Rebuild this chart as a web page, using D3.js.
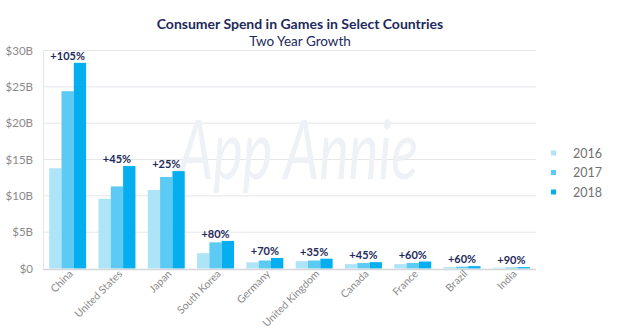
<!DOCTYPE html>
<html>
<head>
<meta charset="utf-8">
<script src="https://cdn.jsdelivr.net/npm/d3@7"></script>
<style>
  html, body { margin: 0; padding: 0; background: #fff; }
  svg { display: block; font-family: Lato, "Open Sans", sans-serif; }
</style>
</head>
<body>
<svg id="chart" width="620" height="330"></svg>
<script>
// Consumer spend in games, billions of US dollars
const countries = ["China", "United States", "Japan", "South Korea", "Germany",
                   "United Kingdom", "Canada", "France", "Brazil", "India"];
const years = ["2016", "2017", "2018"];
const spend2016 = [13.8, 9.6, 10.8, 2.1, 0.85, 1.0, 0.6, 0.6, 0.2, 0.1];
const spend2017 = [24.4, 11.3, 12.6, 3.6, 1.1, 1.1, 0.75, 0.75, 0.25, 0.14];
const spend2018 = [28.3, 14.1, 13.4, 3.8, 1.45, 1.35, 0.87, 0.96, 0.32, 0.19];
const growthLabels = ["+105%", "+45%", "+25%", "+80%", "+70%", "+35%", "+45%", "+60%", "+60%", "+90%"];
const yTicks = [0, 5, 10, 15, 20, 25, 30];
const yearColors = ["#aee4f8", "#5ccaf2", "#05aeee"];

const series = [spend2016, spend2017, spend2018];
const rows = countries.map((c, i) => ({
  country: c,
  values: years.map((yr, k) => ({ year: yr, value: series[k][i] })),
  label: growthLabels[i]
}));

const svg = d3.select("#chart");
const plotLeft = 43, plotRight = 536, plotTop = 50.5, plotBottom = 268.5;

const x = d3.scaleBand().domain(countries).range([plotLeft, plotRight])
  .paddingInner(0.25).paddingOuter(0.125);
const xInner = d3.scaleBand().domain(years).range([0, x.bandwidth()]);
const y = d3.scaleLinear().domain([0, 30]).range([plotBottom, plotTop]);
const color = d3.scaleOrdinal().domain(years).range(yearColors);

// Title
svg.append("text").attr("x", 300).attr("y", 29).attr("text-anchor", "middle")
  .attr("font-size", 14).attr("font-weight", 700).attr("fill", "#1d2a5b")
  .text("Consumer Spend in Games in Select Countries");
svg.append("text").attr("x", 300).attr("y", 46).attr("text-anchor", "middle")
  .attr("font-size", 13.5).attr("fill", "#1d2a5b")
  .text("Two Year Growth");

// Gridlines
svg.append("g").selectAll("line").data(yTicks.filter(d => d > 0)).join("line")
  .attr("x1", plotLeft).attr("x2", plotRight)
  .attr("y1", d => y(d)).attr("y2", d => y(d))
  .attr("stroke", "#e4e6ea").attr("stroke-width", 1);
svg.append("line").attr("x1", plotLeft + 0.5).attr("x2", plotLeft + 0.5)
  .attr("y1", plotTop).attr("y2", plotBottom).attr("stroke", "#e4e6ea");

// Faint watermark
svg.append("text").attr("x", 178).attr("y", 179)
  .attr("font-size", 82).attr("font-style", "italic").attr("font-weight", 400)
  .attr("textLength", 240).attr("lengthAdjust", "spacingAndGlyphs")
  .attr("fill", "#eef1f5").text("App Annie");

// Y axis
const yAxis = d3.axisLeft(y).tickValues(yTicks)
  .tickFormat(d => "$" + d + (d === 0 ? "" : "B")).tickSize(0).tickPadding(10);
const gy = svg.append("g").attr("transform", `translate(${plotLeft},0)`).call(yAxis);
gy.select(".domain").remove();
gy.selectAll("text").attr("font-size", 11.5).attr("fill", "#8a8a8a")
  .attr("font-family", "Lato, sans-serif");

// Bars
const groups = svg.append("g").selectAll("g").data(rows).join("g")
  .attr("transform", d => `translate(${x(d.country)},0)`);
groups.selectAll("rect").data(d => d.values).join("rect")
  .attr("x", d => xInner(d.year))
  .attr("width", xInner.bandwidth())
  .attr("y", d => y(d.value))
  .attr("height", d => y(0) - y(d.value))
  .attr("fill", d => color(d.year));

// Growth labels
groups.append("text")
  .attr("x", x.bandwidth() / 2)
  .attr("y", d => y(d3.max(d.values, v => v.value)) - 3)
  .attr("text-anchor", "middle").attr("font-size", 11).attr("font-weight", 700)
  .attr("fill", "#1d2a5b").text(d => d.label);

// Baseline
svg.append("line").attr("x1", plotLeft).attr("x2", plotRight)
  .attr("y1", plotBottom + 1).attr("y2", plotBottom + 1)
  .attr("stroke", "#d4d6da").attr("stroke-width", 1.5);

// X axis labels
const xAxis = d3.axisBottom(x).tickSize(0).tickPadding(0);
const gx = svg.append("g").attr("transform", `translate(0,${plotBottom})`).call(xAxis);
gx.select(".domain").remove();
gx.selectAll("text")
  .attr("font-size", 10.5).attr("fill", "#8a8a8a")
  .attr("font-family", "Lato, sans-serif")
  .attr("text-anchor", "end")
  .attr("dy", 0).attr("y", 0)
  .attr("transform", "translate(6,6) rotate(-45)");

// Legend
const legend = svg.append("g").selectAll("g").data(years).join("g")
  .attr("transform", (d, i) => `translate(551,${153 + i * 19.5})`);
legend.append("rect").attr("x", 0).attr("y", -2.5).attr("width", 5).attr("height", 5)
  .attr("fill", d => color(d));
legend.append("text").attr("x", 22).attr("y", 0).attr("dy", "0.36em")
  .attr("font-size", 12.5).attr("fill", "#707070").text(d => d);
</script>
</body>
</html>
